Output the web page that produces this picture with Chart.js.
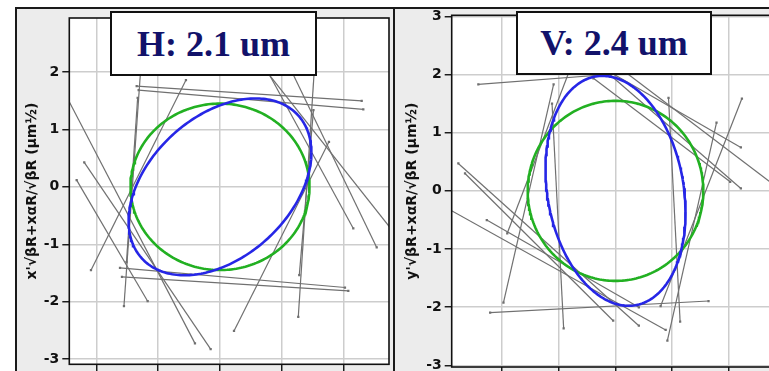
<!DOCTYPE html>
<html>
<head>
<meta charset="utf-8">
<script src="https://cdn.jsdelivr.net/npm/chart.js@4.4.1/dist/chart.umd.min.js"></script>
<style>
  html, body { margin: 0; padding: 0; background: #fff; overflow: hidden; width: 769px; height: 371px; }
  .panel { position: absolute; background: #ececec; border-left: 2px solid #1a1a1a; border-top: 2px solid #1a1a1a; }
  canvas { position: absolute; }
  .tag { position: absolute; box-sizing: border-box; background: #fff; border: 2px solid #111;
         color: #12126a; font: bold 36px "Liberation Serif", serif;
         display: flex; align-items: center; justify-content: center; }
</style>
</head>
<body>
<div class="panel" style="left:15px; top:7px; width:380px; height:380px;"></div>
<div class="panel" style="left:393px; top:7px; width:400px; height:380px;"></div>
<canvas id="hCanvas" style="left:17px; top:0px;"></canvas>
<canvas id="vCanvas" style="left:396px; top:0px;"></canvas>
<div class="tag" style="left:110px; top:11px; width:207px; height:65px;">H: 2.1 um</div>
<div class="tag" style="left:516px; top:11px; width:196px; height:64px;">V: 2.4 um</div>

<script>
// Emittance (um) and measured Twiss parameters in normalised phase space
const planes = ['H', 'V'];
const emittance = [2.1, 2.4];
const betaMeas = [1.043, 0.636];
const alphaMeas = [-0.42, 0.19];

// Measured lines per plane: [x1, y1, x2, y2]
const hSegments = [
    [-1.349, 1.754, 2.295, 1.498],
    [-1.317, 1.685, 2.321, 1.348],
    [-1.619, -1.411, 2.024, -1.753],
    [-1.587, -1.568, 2.078, -1.812],
    [-1.27, 2.26, -1.555, -2.078],
    [-1.333, 1.551, -1.514, -1.312],
    [1.53, 2.08, 1.268, -2.265],
    [1.514, 1.336, 1.284, -1.538],
    [-2.089, -1.451, -0.551, 1.859],
    [0.227, -2.509, 1.765, 0.784],
    [0.405, 2.73, 2.159, -0.725],
    [1.166, 1.998, 2.538, -1.056],
    [0.151, 2.828, 2.915, -0.929],
    [-2.6, 1.81, -0.405, -2.726],
    [-2.198, 0.425, -0.151, -2.827],
    [-2.321, 0.117, -1.171, -1.991]
];
const vSegments = [
    [-2.42, 1.833, 0.44, 2.045],
    [-2.212, -2.096, 1.641, -1.895],
    [-1.092, 1.833, -1.977, -1.924],
    [-1.12, 1.502, -0.915, -2.364],
    [-0.796, 2.108, -1.91, -0.73],
    [0.935, 1.598, 1.14, -2.251],
    [1.782, 1.175, 0.915, -2.577],
    [2.23, 1.588, 0.796, -1.981],
    [-0.39, 1.936, 2.023, 0.155],
    [-0.088, 1.988, 2.212, 0.041],
    [0.0, 1.988, 2.212, 0.746],
    [0.177, 2.04, 3.1, -0.124],
    [-2.773, 0.471, 0.412, -2.32],
    [-2.655, 0.299, -0.041, -2.234],
    [-3.097, -0.23, 0.885, -2.393],
    [-2.271, -0.503, 0.412, -2.003]
];

const yTicks = [-3, -2, -1, 0, 1, 2, 3];
const xTicks = [-2, -1, 0, 1, 2, 3];
const yTitles = ["x'\u221A\u03B2R+x\u03B1R/\u221A\u03B2R (\u03BCm\u00BD)", "y'\u221A\u03B2R+x\u03B1R/\u221A\u03B2R (\u03BCm\u00BD)"];

// phase-space ellipse from emittance + Twiss
function ellipse(eps, beta, alpha) {
    const pts = [];
    for (let i = 0; i <= 240; i++) {
        const phi = i / 240 * 2 * Math.PI;
        pts.push({
            x: Math.sqrt(eps * beta) * Math.cos(phi),
            y: -Math.sqrt(eps / beta) * (alpha * Math.cos(phi) + Math.sin(phi))
        });
    }
    return pts;
}

const frame = {
    id: 'frame',
    beforeDraw(chart) {
        const a = chart.chartArea, ctx = chart.ctx;
        ctx.save();
        ctx.fillStyle = '#fff';
        ctx.fillRect(a.left, a.top, a.right - a.left, a.bottom - a.top);
        ctx.restore();
    },
    afterDraw(chart) {
        const a = chart.chartArea, ctx = chart.ctx;
        ctx.save();
        ctx.strokeStyle = '#111';
        ctx.lineWidth = 1.6;
        ctx.strokeRect(a.left, a.top, a.right - a.left, a.bottom - a.top);
        ctx.restore();
    }
};

function makeChart(id, idx, segments, box) {
    const canvas = document.getElementById(id);
    canvas.width = box.w;
    canvas.height = box.h;
    const eps = emittance[idx];

    const datasets = [
        { data: ellipse(eps, betaMeas[idx], alphaMeas[idx]), borderColor: '#2626e6', borderWidth: 2.6 },
        { data: ellipse(eps, 1, 0), borderColor: '#22b022', borderWidth: 2.6 }
    ];
    segments.forEach(s => {
        datasets.push({
            data: [{ x: s[0], y: s[1] }, { x: s[2], y: s[3] }],
            borderColor: '#707070',
            borderWidth: 1.2,
            pointRadius: 1.6,
            pointStyle: 'rect',
            pointBackgroundColor: '#707070',
            pointBorderWidth: 0
        });
    });
    datasets.forEach(d => {
        d.showLine = true;
        d.fill = false;
        if (d.pointRadius === undefined) d.pointRadius = 0;
    });

    const inRange = (v, lo, hi) => v >= lo - 1e-6 && v <= hi + 1e-6;

    return new Chart(canvas, {
        type: 'scatter',
        data: { datasets },
        plugins: [frame],
        options: {
            responsive: false,
            animation: false,
            devicePixelRatio: 1,
            layout: { padding: { top: box.top, right: 4, left: 0, bottom: 0 } },
            plugins: { legend: { display: false }, tooltip: { enabled: false } },
            scales: {
                x: {
                    type: 'linear',
                    min: box.xMin, max: box.xMax,
                    afterBuildTicks: s => { s.ticks = xTicks.filter(v => inRange(v, box.xMin, box.xMax)).map(v => ({ value: v })); },
                    afterFit: s => { s.height = box.h - box.bottom; },
                    grid: { color: '#cdcdcd', lineWidth: 1.5, tickColor: '#111', tickWidth: 1.4, tickLength: 8 },
                    border: { display: false },
                    ticks: { color: '#111', font: { family: 'DejaVu Sans', size: 14, weight: 'bold' } }
                },
                y: {
                    type: 'linear',
                    min: box.yMin, max: box.yMax,
                    afterBuildTicks: s => { s.ticks = yTicks.filter(v => inRange(v, box.yMin, box.yMax + 0.05)).map(v => ({ value: v })); },
                    afterFit: s => { s.width = box.axisW; },
                    grid: { color: '#cdcdcd', lineWidth: 1.5, tickColor: '#111', tickWidth: 1.4, tickLength: 7 },
                    border: { display: false },
                    ticks: { color: '#111', padding: 3, font: { family: 'DejaVu Sans', size: 14, weight: 'bold' } },
                    title: {
                        display: true,
                        text: yTitles[idx],
                        color: '#111',
                        padding: { top: box.titlePad, bottom: 0 },
                        font: { family: 'DejaVu Sans', size: 14, weight: 'bold' }
                    }
                }
            }
        }
    });
}

makeChart('hCanvas', 0, hSegments, {
    w: 376, h: 400, top: 18, bottom: 364.3, axisW: 52.3, titlePad: 7,
    xMin: -2.44, xMax: 2.737, yMin: -3.09, yMax: 2.94
});
makeChart('vCanvas', 1, vSegments, {
    w: 410, h: 400, top: 15.3, bottom: 367, axisW: 55.7, titlePad: 8,
    xMin: -2.89, xMax: 3.29, yMin: -3.03, yMax: 3.02
});
</script>
</body>
</html>
